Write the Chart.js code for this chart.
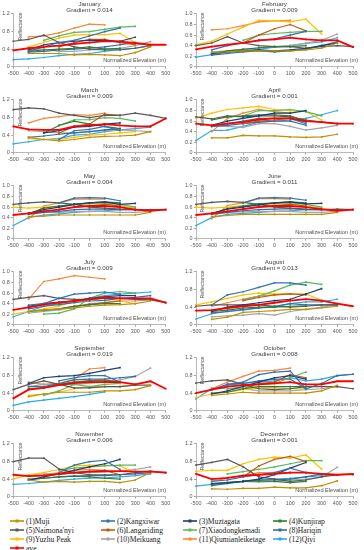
<!DOCTYPE html>
<html><head><meta charset="utf-8">
<script src="https://cdn.jsdelivr.net/npm/chart.js@4.4.1/dist/chart.umd.min.js"></script>
<style>
html,body{margin:0;padding:0;background:#fff}
body{width:364px;height:550px;position:relative;overflow:hidden}
.p{position:absolute;width:182px;height:80px}
.li{position:absolute;height:10px;display:flex;align-items:center;white-space:nowrap;font-family:'Liberation Serif','Times New Roman',serif;font-size:7.6px;color:#222}
.li svg{margin-right:2px}
</style></head><body>
<script>
const xLabels = ['-500','-400','-300','-200','-100','0','100','200','300','400','500'];
const months = ['January','February','March','April','May','June','July','August','September','October','November','December'];
const gradients = ['0.014','0.009','0.009','0.001','0.004','0.011','0.009','0.013','0.019','0.008','0.006','0.001'];
const yMax = [1.2,1,1.2,1,1,1,1,1.2,1.2,1.2,1.2,1.2];
const seriesNames = ['(1)Muji','(2)Kangxiwar','(3)Muztagata','(4)Kunjirap',"(5)Naimona'nyi",'(6)Langariding','(7)Xiaodongkemadi','(8)Hariqin','(9)Yuzhu Peak','(10)Meikuang','(11)Qiumianleiketage','(12)Qiyi','ave.'];
const N = null;
// each series: one row per month (Jan..Dec), values at -500..500 m
const muji = [
 [N,0.30,0.30,0.30,0.27,0.28,0.27,0.25,0.32,0.45,N],
 [N,0.27,0.28,0.30,0.30,0.30,0.30,0.32,0.35,0.45,N],
 [N,0.35,0.30,0.27,0.30,0.35,0.37,0.38,0.40,0.48,N],
 [N,0.28,0.28,0.33,0.32,0.32,0.30,0.29,0.30,0.35,N],
 [N,0.42,0.43,0.45,0.45,0.45,0.45,0.45,0.45,0.50,N],
 [N,0.42,0.44,0.46,0.46,0.46,0.46,0.46,0.46,0.50,N],
 [N,0.25,0.28,0.30,0.32,0.35,0.37,0.38,0.40,0.45,N],
 [N,0.12,0.17,0.28,0.30,0.32,0.35,0.35,0.38,0.42,N],
 [N,0.32,0.38,0.42,0.42,0.42,0.45,0.45,0.48,0.57,N],
 [N,0.35,0.38,0.42,0.40,0.40,0.40,0.40,0.45,0.58,N],
 [N,0.38,0.33,0.35,0.33,0.35,0.35,0.32,0.38,0.55,N],
 [N,0.18,0.17,0.19,0.19,0.22,0.20,0.20,0.25,0.36,N]];
const kangxiwar = [
 [N,0.35,0.45,0.55,0.60,0.70,0.80,0.88,N,N,N],
 [N,0.32,0.40,0.45,0.50,0.53,0.60,0.67,N,N,N],
 [N,N,N,0.30,0.50,0.53,0.60,0.50,N,N,N],
 [N,0.50,0.55,0.60,0.65,0.65,0.65,0.55,N,N,N],
 [N,N,N,0.68,0.77,0.78,0.77,0.72,N,N,N],
 [N,N,N,0.68,0.77,0.78,0.77,0.73,N,N,N],
 [N,0.37,0.40,0.50,0.58,0.60,0.62,0.58,N,N,N],
 [N,0.45,0.68,0.75,0.85,0.95,0.95,0.90,N,N,N],
 [N,N,N,0.68,0.75,0.80,0.80,0.65,N,N,N],
 [N,0.48,0.60,0.65,0.82,0.88,0.90,0.50,N,N,N],
 [N,N,N,0.55,0.72,0.80,0.83,0.62,N,N,N],
 [N,0.35,0.38,0.45,0.50,0.55,0.65,0.55,N,N,N]];
const muztagata = [
 [N,0.38,0.50,0.55,0.58,0.60,0.60,0.58,0.67,N,N],
 [N,0.25,0.28,0.30,0.32,0.30,0.32,0.35,0.40,0.45,N],
 [N,N,0.45,0.50,0.58,0.60,0.65,0.68,N,N,N],
 [N,0.52,0.60,0.65,0.70,0.75,0.75,0.80,N,N,N],
 [N,0.48,0.55,0.60,0.65,0.68,0.70,0.65,0.67,N,N],
 [N,0.48,0.56,0.60,0.64,0.68,0.70,0.66,0.67,N,N],
 [N,0.35,0.40,0.43,0.45,0.50,0.53,0.55,0.55,N,N],
 [N,0.30,0.40,0.45,0.50,0.55,0.58,0.70,0.82,N,N],
 [N,0.62,0.75,0.78,0.80,0.85,0.92,0.98,N,N,N],
 [N,0.38,0.45,0.55,0.65,0.75,0.80,0.72,N,N,N],
 [N,0.38,0.45,0.52,0.60,0.68,0.75,0.85,N,N,N],
 [N,0.30,0.32,0.35,0.40,0.50,0.65,0.78,N,N,N]];
const kunjirap = [
 [N,0.35,0.38,0.40,0.42,0.45,0.40,0.42,N,N,N],
 [N,0.25,0.30,0.33,0.36,0.38,0.38,0.40,N,N,N],
 [N,N,0.45,0.62,0.72,0.65,0.60,0.55,N,N,N],
 [N,0.62,0.68,0.70,0.72,0.72,0.70,0.60,N,N,N],
 [N,0.47,0.58,0.62,0.65,0.68,0.70,0.68,N,N,N],
 [N,0.47,0.57,0.62,0.66,0.68,0.70,0.68,N,N,N],
 [N,0.25,0.27,0.30,0.35,0.38,0.40,0.40,N,N,N],
 [N,0.30,0.33,0.38,0.40,0.40,0.42,0.43,N,N,N],
 [N,0.50,0.52,0.60,0.65,0.68,0.68,0.65,N,N,N],
 [N,0.40,0.42,0.50,0.55,0.55,0.55,0.55,N,N,N],
 [N,0.40,0.42,0.45,0.47,0.45,0.42,0.40,N,N,N],
 [N,0.28,0.32,0.35,0.36,0.35,0.32,0.35,N,N,N]];
const naimonanyi = [
 [0.58,0.62,0.72,0.55,0.45,0.40,0.38,0.38,0.42,0.48,N],
 [0.40,0.45,0.57,0.45,0.40,0.38,0.38,0.35,0.38,0.40,0.38],
 [0.98,1.02,1.00,0.90,0.85,0.80,0.85,0.85,0.90,0.85,0.78],
 [0.68,0.64,0.70,0.68,0.70,0.70,0.68,0.62,0.58,0.55,N],
 [0.65,0.68,0.70,0.68,0.65,0.60,0.58,0.56,0.55,0.55,0.55],
 [0.65,0.69,0.71,0.69,0.65,0.60,0.58,0.56,0.55,0.56,0.55],
 [0.48,0.52,0.55,0.50,0.48,0.48,0.50,0.50,0.48,0.47,0.42],
 [0.42,0.45,0.45,0.45,0.45,0.42,0.40,0.42,0.45,0.45,N],
 [0.48,0.60,0.68,0.60,0.52,0.52,0.55,0.55,0.58,0.58,N],
 [0.63,0.68,0.70,0.60,0.50,0.48,0.50,0.55,0.55,0.55,0.50],
 [0.80,0.88,0.88,0.63,0.55,0.50,0.50,0.50,0.55,0.58,0.55],
 [0.72,0.78,0.85,0.68,0.45,0.40,0.35,0.38,0.45,0.50,0.50]];
const langariding = [
 [N,N,N,0.45,0.55,0.62,0.62,0.55,0.50,N,N],
 [N,N,N,0.45,0.60,0.72,0.80,0.68,N,N,N],
 [N,N,N,0.45,0.60,0.65,0.88,0.85,N,N,N],
 [N,N,N,0.55,0.60,0.62,0.65,0.58,N,N,N],
 [N,N,N,0.55,0.60,0.62,0.65,0.62,N,N,N],
 [N,N,N,0.56,0.61,0.63,0.65,0.62,N,N,N],
 [N,N,N,0.30,0.35,0.38,0.42,0.45,N,N,N],
 [N,N,N,0.55,0.62,0.68,0.70,0.68,N,N,N],
 [N,N,N,0.60,0.65,0.68,0.70,0.65,N,N,N],
 [N,N,N,0.50,0.62,0.65,0.82,0.75,N,N,N],
 [N,N,N,0.50,0.55,0.58,0.60,0.50,N,N,N],
 [N,N,N,0.45,0.70,0.85,0.92,0.80,N,N,N]];
const xiaodongkemadi = [
 [N,N,0.60,0.70,0.78,0.80,0.85,0.90,0.92,N,N],
 [N,N,N,0.50,0.60,0.63,0.65,0.67,0.67,N,N],
 [N,N,N,0.62,0.75,0.75,0.80,0.78,0.72,N,N],
 [N,N,N,0.70,0.80,0.80,0.82,0.78,0.70,N,N],
 [N,N,N,0.60,0.65,0.67,0.68,0.65,0.60,N,N],
 [N,N,N,0.61,0.66,0.67,0.68,0.65,0.60,N,N],
 [N,N,0.20,0.22,0.30,0.50,0.60,0.63,0.60,N,N],
 [N,N,N,0.57,0.65,0.77,0.90,0.97,0.92,N,N],
 [N,N,0.35,0.45,0.60,0.55,0.60,0.62,N,N,N],
 [N,N,0.50,0.55,0.60,0.62,0.75,0.88,N,N,N],
 [N,N,N,0.60,0.65,0.68,0.70,0.72,0.72,N,N],
 [N,N,0.52,0.57,0.62,0.68,0.75,0.82,0.82,N,N]];
const hariqin = [
 [N,0.33,0.35,0.38,0.40,0.42,0.45,0.50,0.55,N,N],
 [N,0.22,0.25,0.28,0.30,0.28,0.30,0.33,0.40,0.47,N],
 [N,0.35,0.38,0.42,0.45,0.48,0.52,0.55,N,N,N],
 [N,0.50,0.52,0.55,0.58,0.60,0.60,0.52,N,N,N],
 [N,0.46,0.50,0.52,0.55,0.56,0.56,0.55,0.55,N,N],
 [N,0.46,0.50,0.53,0.55,0.56,0.57,0.55,0.55,N,N],
 [N,0.30,0.35,0.38,0.42,0.45,0.46,0.50,0.52,0.55,N],
 [N,0.27,0.30,0.35,0.38,0.42,0.48,0.45,0.45,0.45,N],
 [N,0.55,0.55,0.62,0.70,0.72,0.72,0.75,0.78,N,N],
 [N,N,0.60,0.62,0.68,0.72,0.72,0.50,0.62,0.80,0.83],
 [N,0.38,0.42,0.45,0.47,0.48,0.48,0.50,0.52,0.55,N],
 [N,0.25,0.30,0.35,0.38,0.38,0.40,0.45,0.52,0.50,N]];
const yuzhuPeak = [
 [N,0.45,0.55,0.65,0.72,0.73,0.73,0.76,0.55,N,N],
 [0.42,0.48,0.62,0.75,0.88,0.87,0.85,0.90,0.62,N,N],
 [N,0.32,0.30,0.30,0.35,0.40,0.42,0.45,0.48,N,N],
 [0.65,0.75,0.82,0.85,0.88,0.82,0.80,0.78,0.62,N,N],
 [0.60,0.58,0.60,0.62,0.65,0.66,0.66,0.62,0.58,N,N],
 [0.60,0.58,0.60,0.63,0.65,0.66,0.66,0.62,0.58,N,N],
 [0.20,0.25,0.30,0.35,0.45,0.48,0.50,0.45,0.40,N,N],
 [0.45,0.52,0.60,0.68,0.72,0.70,0.70,0.70,0.55,N,N],
 [N,0.35,0.38,0.42,0.50,0.55,0.55,0.55,0.60,N,N],
 [0.30,0.38,0.42,0.48,0.52,0.52,0.50,0.50,N,N,N],
 [0.40,0.50,0.55,0.62,0.70,0.72,0.72,0.70,0.55,N,N],
 [0.58,0.60,0.60,0.75,0.85,0.90,0.88,0.95,0.63,N,N]];
const meikuang = [
 [N,0.40,0.40,0.35,0.35,0.38,0.40,0.42,0.48,0.57,N],
 [N,0.28,0.30,0.33,0.35,0.38,0.40,0.45,0.50,0.62,N],
 [N,0.50,0.48,0.45,0.45,0.48,0.50,0.52,0.50,0.48,N],
 [N,0.50,0.50,0.48,0.55,0.55,0.50,0.43,0.47,0.52,N],
 [N,0.48,0.50,0.50,0.52,0.52,0.52,0.50,0.50,0.52,N],
 [N,0.48,0.50,0.51,0.52,0.52,0.52,0.50,0.50,0.52,N],
 [N,0.22,0.25,0.28,0.33,0.40,0.42,0.45,0.45,0.48,N],
 [N,0.18,0.20,0.22,0.25,0.22,0.30,0.35,0.40,0.45,N],
 [N,0.55,0.60,0.60,0.60,0.62,0.65,0.70,0.78,0.97,N],
 [N,0.52,0.50,0.50,0.45,0.45,0.45,0.48,0.50,0.55,N],
 [N,0.50,0.52,0.53,0.55,0.55,0.56,0.58,0.62,0.68,N],
 [N,0.30,0.32,0.35,0.33,0.35,0.38,0.40,0.45,0.67,N]];
const qiumianleiketage = [
 [N,0.68,0.70,0.77,0.88,0.97,0.95,N,N,N,N],
 [N,0.70,0.72,0.78,0.85,0.87,0.88,N,N,N,N],
 [N,0.68,0.78,0.82,0.87,0.85,0.90,N,N,N,N],
 [N,0.40,0.65,0.75,0.82,0.78,0.75,N,N,N,N],
 [N,0.38,0.62,0.68,0.75,0.75,0.75,N,N,N,N],
 [N,0.38,0.63,0.68,0.76,0.76,0.75,N,N,N,N],
 [N,0.48,0.82,0.87,0.93,0.90,0.87,N,N,N,N],
 [N,0.42,0.50,0.58,0.65,0.68,0.70,N,N,N,N],
 [N,0.65,0.60,0.62,0.72,0.95,0.98,N,N,N,N],
 [N,0.50,0.65,0.78,0.90,0.92,0.97,N,N,N,N],
 [N,0.48,0.50,0.55,0.60,0.62,0.60,N,N,N,N],
 [N,0.35,0.42,0.48,0.55,0.55,0.55,N,N,N,N]];
const qiyi = [
 [0.16,0.18,0.21,0.25,0.28,0.30,0.35,0.40,0.42,0.48,N],
 [0.18,0.23,0.27,0.30,0.33,0.37,0.40,0.44,0.47,0.55,N],
 [0.20,0.25,0.30,0.32,0.40,0.42,0.48,0.52,0.55,0.58,N],
 [0.23,0.42,0.43,0.50,0.58,0.60,0.62,0.65,0.72,0.80,N],
 [0.25,0.40,0.45,0.47,0.50,0.52,0.53,0.55,0.55,0.52,N],
 [0.25,0.40,0.46,0.48,0.50,0.52,0.53,0.55,0.55,0.53,N],
 [0.15,0.25,0.35,0.40,0.45,0.50,0.55,0.58,0.60,0.62,N],
 [0.13,0.25,0.30,0.33,0.38,0.40,0.48,0.52,0.52,0.58,N],
 [0.12,0.20,0.24,0.28,0.32,0.37,0.43,N,N,N,N],
 [0.27,0.50,0.58,0.62,0.65,0.68,0.75,0.68,0.72,0.80,0.83],
 [0.28,0.30,0.33,0.37,0.40,0.42,0.43,0.45,0.48,0.52,N],
 [0.24,0.28,0.30,0.35,0.38,0.40,0.42,0.45,0.48,0.50,N]];
const ave = [
 [0.37,0.42,0.45,0.48,0.52,0.55,0.58,0.57,0.54,0.50,0.50],
 [0.33,0.38,0.42,0.45,0.50,0.52,0.55,0.52,0.50,0.50,0.37],
 [0.60,0.53,0.52,0.52,0.60,0.62,0.65,0.62,0.60,0.60,0.78],
 [0.55,0.52,0.55,0.58,0.63,0.65,0.65,0.60,0.58,0.55,0.55],
 [0.45,0.48,0.52,0.55,0.60,0.62,0.62,0.60,0.55,0.53,0.55],
 [0.45,0.48,0.52,0.56,0.60,0.62,0.62,0.60,0.56,0.53,0.55],
 [0.28,0.33,0.38,0.42,0.45,0.48,0.52,0.50,0.50,0.50,0.42],
 [0.32,0.33,0.38,0.42,0.45,0.50,0.55,0.58,0.55,0.48,0.42],
 [0.28,0.48,0.52,0.58,0.63,0.65,0.65,0.65,0.60,0.67,0.50],
 [0.40,0.48,0.55,0.58,0.60,0.62,0.65,0.60,0.60,0.67,0.67],
 [0.50,0.47,0.48,0.52,0.55,0.57,0.58,0.58,0.57,0.57,0.55],
 [0.52,0.40,0.43,0.48,0.50,0.52,0.55,0.55,0.52,0.50,0.52]];

const allSeries = [muji,kangxiwar,muztagata,kunjirap,naimonanyi,langariding,xiaodongkemadi,hariqin,yuzhuPeak,meikuang,qiumianleiketage,qiyi,ave];
const colors = ['#BF9000','#2E75B6','#1F3F73','#2E7D32','#595959','#C55A11','#5CB85C','#2F6FA8','#FFC000','#A5A5A5','#F58A3A','#2EAAE8','#FF0000'];
const FAM = "'Liberation Sans', Arial, sans-serif";

const innerLabels = {
  id:'innerLabels',
  afterDraw(chart, args, opts){
    const {ctx, chartArea:a} = chart;
    ctx.save();
    ctx.fillStyle = '#505050';
    ctx.font = "5.6px " + FAM;
    ctx.textAlign = 'right';
    ctx.textBaseline = 'middle';
    ctx.fillText('Normalized Elevation (m)', a.right + opts.off, a.bottom - 6);
    ctx.font = "5.3px " + FAM;
    ctx.translate(a.left + 7, a.top - 1.5);
    ctx.rotate(-Math.PI/2);
    ctx.fillText('Reflectance', 0, 0);
    ctx.restore();
  }
};

for (let i = 0; i < 12; i++) {
  const row = Math.floor(i/2), col = i % 2;
  const div = document.createElement('div');
  div.className = 'p';
  div.style.left = (col*182) + 'px';
  div.style.top = (row*86) + 'px';
  const cv = document.createElement('canvas');
  cv.width = 182; cv.height = 80;
  cv.style.width = '182px'; cv.style.height = '80px';
  div.appendChild(cv);
  document.body.appendChild(div);
  const datasets = allSeries.map((s,k) => ({
    label: seriesNames[k],
    data: s[i],
    borderColor: colors[k],
    backgroundColor: colors[k],
    borderWidth: k === 12 ? 1.8 : 1.2,
    pointRadius: 1.2,
    pointStyle: 'rect',
    pointBorderWidth: 0,
    order: k === 12 ? -1 : 0,
    tension: 0
  }));
  const axisColor = '#A6A6A6';
  new Chart(cv, {
    type: 'line',
    data: { labels: xLabels, datasets },
    plugins: [innerLabels],
    options: {
      responsive: false,
      animation: false,
      devicePixelRatio: 1,
      layout: { padding: { left: 0, right: col ? 11 : 16.3, top: 0, bottom: 0 } },
      plugins: {
        legend: { display: false },
        tooltip: { enabled: false },
        title: {
          display: true, fullSize: false,
          text: [months[i], 'Gradient = ' + gradients[i]],
          color: '#404040',
          font: { size: 6.2, family: FAM, weight: 'normal', lineHeight: 1.08 },
          padding: { top: 0.6, bottom: 0 }
        },
        innerLabels: { off: col ? 5 : 0.3 }
      },
      scales: {
        x: {
          type: 'category', offset: false,
          grid: { drawOnChartArea: false, drawTicks: true, tickLength: 2, color: axisColor },
          border: { color: axisColor, width: 0.8 },
          ticks: { font: { size: 5.4, family: FAM }, color: '#595959', padding: 1.5, maxRotation: 0, autoSkip: false },
          afterFit: s => { s.height = 13.3; }
        },
        y: {
          min: 0, max: yMax[i],
          grid: { drawOnChartArea: false, drawTicks: true, tickLength: 2, color: axisColor },
          border: { color: axisColor, width: 0.8 },
          ticks: { stepSize: 0.2, font: { size: 5.4, family: FAM }, color: '#595959', padding: 1.5 },
          afterFit: s => { s.width = col ? 14 : 13.3; }
        }
      }
    }
  });
}

// legend
const legX = [10, 101, 183, 273];
const legY = [521, 530, 539, 548];
seriesNames.forEach((name, k) => {
  const r = Math.floor(k/4), c = k % 4;
  const d = document.createElement('div');
  d.className = 'li';
  d.style.left = legX[c] + 'px';
  d.style.top = (legY[r] - 5) + 'px';
  d.innerHTML = '<svg width="14" height="6"><line x1="0" y1="3" x2="14" y2="3" stroke="' + colors[k] + '" stroke-width="1.6"/><rect x="5.5" y="1.5" width="3" height="3" fill="' + colors[k] + '"/></svg><span>' + name + '</span>';
  document.body.appendChild(d);
});
</script>
</body></html>
